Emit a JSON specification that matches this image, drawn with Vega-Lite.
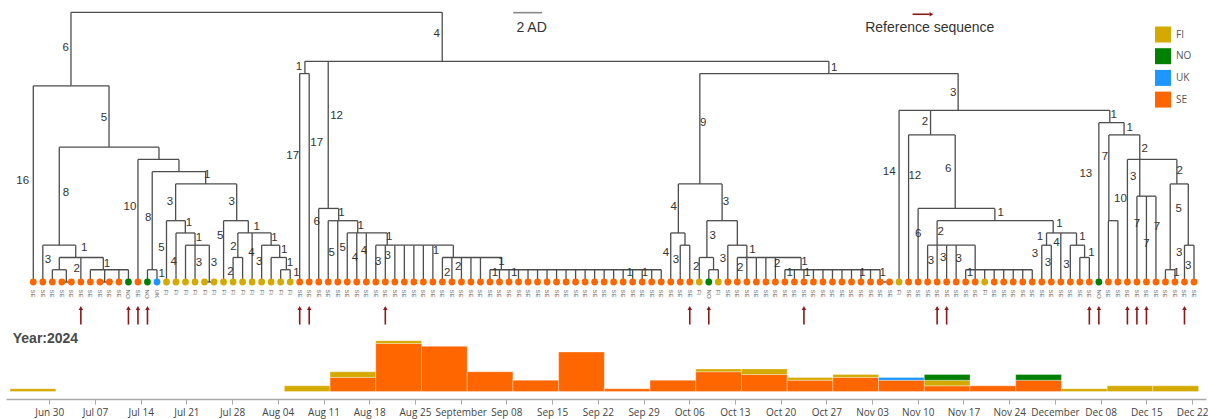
{
  "$schema": "https://vega.github.io/schema/vega-lite/v6.json",
  "width": 1208,
  "height": 419,
  "autosize": "none",
  "padding": 0,
  "background": "#ffffff",
  "config": {"view": {"stroke": null}, "text": {"font": "Liberation Sans"}},
  "datasets": {
    "tips": [
      {"i":0,"c":"SE","h":16,"r":0},{"i":1,"c":"SE","h":3,"r":0},{"i":2,"c":"SE","h":1,"r":0},{"i":3,"c":"SE","h":0,"r":0},{"i":4,"c":"SE","h":0,"r":0},
      {"i":5,"c":"SE","h":2,"r":1},{"i":6,"c":"SE","h":1,"r":0},{"i":7,"c":"SE","h":0,"r":0},{"i":8,"c":"SE","h":0,"r":0},{"i":9,"c":"SE","h":1,"r":0},
      {"i":10,"c":"NO","h":1,"r":1},{"i":11,"c":"SE","h":10,"r":1},{"i":12,"c":"NO","h":1,"r":1},{"i":13,"c":"UK","h":1,"r":0},{"i":14,"c":"FI","h":5,"r":0},
      {"i":15,"c":"FI","h":4,"r":0},{"i":16,"c":"FI","h":3,"r":0},{"i":17,"c":"FI","h":3,"r":0},{"i":18,"c":"FI","h":0,"r":0},{"i":19,"c":"FI","h":0,"r":0},
      {"i":20,"c":"FI","h":5,"r":0},{"i":21,"c":"FI","h":2,"r":0},{"i":22,"c":"FI","h":2,"r":0},{"i":23,"c":"FI","h":4,"r":0},{"i":24,"c":"FI","h":3,"r":0},
      {"i":25,"c":"FI","h":2,"r":0},{"i":26,"c":"FI","h":1,"r":0},{"i":27,"c":"FI","h":1,"r":0},{"i":28,"c":"SE","h":17,"r":1},{"i":29,"c":"SE","h":17,"r":1},
      {"i":30,"c":"SE","h":6,"r":0},{"i":31,"c":"SE","h":5,"r":0},{"i":32,"c":"SE","h":5,"r":0},{"i":33,"c":"SE","h":4,"r":0},{"i":34,"c":"SE","h":4,"r":0},
      {"i":35,"c":"SE","h":4,"r":0},{"i":36,"c":"SE","h":3,"r":0},{"i":37,"c":"SE","h":3,"r":1},{"i":38,"c":"SE","h":3,"r":0},{"i":39,"c":"SE","h":3,"r":0},
      {"i":40,"c":"SE","h":3,"r":0},{"i":41,"c":"SE","h":3,"r":0},{"i":42,"c":"SE","h":3,"r":0},{"i":43,"c":"SE","h":2,"r":0},{"i":44,"c":"SE","h":2,"r":0},
      {"i":45,"c":"SE","h":2,"r":0},{"i":46,"c":"SE","h":2,"r":0},{"i":47,"c":"SE","h":2,"r":0},{"i":48,"c":"SE","h":1,"r":0},{"i":49,"c":"SE","h":1,"r":0},
      {"i":50,"c":"SE","h":1,"r":0},{"i":51,"c":"SE","h":1,"r":0},{"i":52,"c":"SE","h":1,"r":0},{"i":53,"c":"SE","h":1,"r":0},{"i":54,"c":"SE","h":1,"r":0},
      {"i":55,"c":"SE","h":1,"r":0},{"i":56,"c":"SE","h":1,"r":0},{"i":57,"c":"SE","h":1,"r":0},{"i":58,"c":"SE","h":1,"r":0},{"i":59,"c":"SE","h":1,"r":0},
      {"i":60,"c":"SE","h":1,"r":0},{"i":61,"c":"SE","h":1,"r":0},{"i":62,"c":"SE","h":1,"r":0},{"i":63,"c":"SE","h":1,"r":0},{"i":64,"c":"SE","h":1,"r":0},
      {"i":65,"c":"SE","h":1,"r":0},{"i":66,"c":"SE","h":1,"r":0},{"i":67,"c":"SE","h":4,"r":0},{"i":68,"c":"SE","h":3,"r":0},{"i":69,"c":"SE","h":3,"r":1},
      {"i":70,"c":"FI","h":2,"r":0},{"i":71,"c":"NO","h":1,"r":1},{"i":72,"c":"FI","h":1,"r":0},{"i":73,"c":"SE","h":3,"r":0},{"i":74,"c":"SE","h":2,"r":0},
      {"i":75,"c":"SE","h":2,"r":0},{"i":76,"c":"SE","h":2,"r":0},{"i":77,"c":"SE","h":2,"r":0},{"i":78,"c":"SE","h":2,"r":0},{"i":79,"c":"SE","h":1,"r":0},
      {"i":80,"c":"SE","h":1,"r":0},{"i":81,"c":"SE","h":1,"r":1},{"i":82,"c":"SE","h":1,"r":0},{"i":83,"c":"SE","h":1,"r":0},{"i":84,"c":"SE","h":1,"r":0},
      {"i":85,"c":"SE","h":1,"r":0},{"i":86,"c":"SE","h":1,"r":0},{"i":87,"c":"SE","h":1,"r":0},{"i":88,"c":"SE","h":1,"r":0},{"i":89,"c":"SE","h":1,"r":0},
      {"i":90,"c":"SE","h":0,"r":0},{"i":91,"c":"FI","h":14,"r":0},{"i":92,"c":"SE","h":12,"r":0},{"i":93,"c":"SE","h":6,"r":0},{"i":94,"c":"SE","h":3,"r":0},
      {"i":95,"c":"SE","h":3,"r":1},{"i":96,"c":"SE","h":3,"r":1},{"i":97,"c":"SE","h":3,"r":0},{"i":98,"c":"SE","h":1,"r":0},{"i":99,"c":"SE","h":1,"r":0},
      {"i":100,"c":"FI","h":1,"r":0},{"i":101,"c":"SE","h":1,"r":0},{"i":102,"c":"SE","h":1,"r":0},{"i":103,"c":"SE","h":1,"r":0},{"i":104,"c":"SE","h":1,"r":0},
      {"i":105,"c":"SE","h":1,"r":0},{"i":106,"c":"SE","h":3,"r":0},{"i":107,"c":"SE","h":3,"r":0},{"i":108,"c":"SE","h":4,"r":0},{"i":109,"c":"SE","h":3,"r":0},
      {"i":110,"c":"SE","h":2,"r":0},{"i":111,"c":"SE","h":2,"r":1},{"i":112,"c":"NO","h":13,"r":1},{"i":113,"c":"SE","h":5,"r":0},{"i":114,"c":"SE","h":5,"r":0},
      {"i":115,"c":"SE","h":10,"r":1},{"i":116,"c":"SE","h":7,"r":1},{"i":117,"c":"SE","h":7,"r":1},{"i":118,"c":"SE","h":7,"r":0},{"i":119,"c":"SE","h":1,"r":0},
      {"i":120,"c":"SE","h":1,"r":0},{"i":121,"c":"SE","h":3,"r":1},{"i":122,"c":"SE","h":3,"r":0}
    ],
    "segs": [
      {"x1":3.96,"x2":42.98,"y1":22,"y2":22},{"x1":3.96,"x2":3.96,"y1":22,"y2":16},{"x1":0,"x2":7.96,"y1":16,"y2":16},{"x1":7.96,"x2":7.96,"y1":16,"y2":11},
      {"x1":2.73,"x2":13.21,"y1":11,"y2":11},{"x1":2.73,"x2":2.73,"y1":11,"y2":3},{"x1":1,"x2":4.46,"y1":3,"y2":3},{"x1":4.46,"x2":4.46,"y1":3,"y2":2},
      {"x1":2.73,"x2":7.36,"y1":2,"y2":2},{"x1":2.73,"x2":2.73,"y1":2,"y2":1},{"x1":2,"x2":3.47,"y1":1,"y2":1},{"x1":3.47,"x2":3.47,"y1":1,"y2":0},
      {"x1":3,"x2":4,"y1":0,"y2":0},{"x1":7.36,"x2":7.36,"y1":2,"y2":1},{"x1":6,"x2":10,"y1":1,"y2":1},{"x1":7.5,"x2":7.5,"y1":1,"y2":0},
      {"x1":7,"x2":8,"y1":0,"y2":0},{"x1":13.21,"x2":13.21,"y1":11,"y2":10},{"x1":11,"x2":15.31,"y1":10,"y2":10},{"x1":15.31,"x2":15.31,"y1":10,"y2":9},
      {"x1":12.5,"x2":18.12,"y1":9,"y2":9},{"x1":12.5,"x2":12.5,"y1":9,"y2":1},{"x1":12,"x2":13,"y1":1,"y2":1},{"x1":18.12,"x2":18.12,"y1":9,"y2":8},
      {"x1":14.96,"x2":21.38,"y1":8,"y2":8},{"x1":14.96,"x2":14.96,"y1":8,"y2":5},{"x1":14,"x2":15.98,"y1":5,"y2":5},{"x1":15.98,"x2":15.98,"y1":5,"y2":4},
      {"x1":15,"x2":17,"y1":4,"y2":4},{"x1":17,"x2":17,"y1":4,"y2":3},{"x1":16,"x2":18.5,"y1":3,"y2":3},{"x1":18.5,"x2":18.5,"y1":3,"y2":0},
      {"x1":18,"x2":19,"y1":0,"y2":0},{"x1":21.38,"x2":21.38,"y1":8,"y2":5},{"x1":20,"x2":22.6,"y1":5,"y2":5},{"x1":22.6,"x2":22.6,"y1":5,"y2":4},
      {"x1":21.5,"x2":25,"y1":4,"y2":4},{"x1":21.5,"x2":21.5,"y1":4,"y2":2},{"x1":21,"x2":22,"y1":2,"y2":2},{"x1":25,"x2":25,"y1":4,"y2":3},
      {"x1":24,"x2":25.9,"y1":3,"y2":3},{"x1":25.9,"x2":25.9,"y1":3,"y2":2},{"x1":25,"x2":26.6,"y1":2,"y2":2},{"x1":26.6,"x2":26.6,"y1":2,"y2":1},
      {"x1":26,"x2":27,"y1":1,"y2":1},
      {"x1":42.98,"x2":42.98,"y1":22,"y2":18},{"x1":28.55,"x2":83.62,"y1":18,"y2":18},{"x1":28.55,"x2":28.55,"y1":18,"y2":17},{"x1":28,"x2":29,"y1":17,"y2":17},
      {"x1":31.0,"x2":31.0,"y1":18,"y2":6},{"x1":30,"x2":32.1,"y1":6,"y2":6},{"x1":32.1,"x2":32.1,"y1":6,"y2":5},{"x1":31,"x2":34.1,"y1":5,"y2":5},
      {"x1":34.1,"x2":34.1,"y1":5,"y2":4},{"x1":33,"x2":37.2,"y1":4,"y2":4},{"x1":37.2,"x2":37.2,"y1":4,"y2":3},{"x1":36,"x2":44.15,"y1":3,"y2":3},
      {"x1":44.15,"x2":44.15,"y1":3,"y2":2},{"x1":43,"x2":49.2,"y1":2,"y2":2},{"x1":49.2,"x2":49.2,"y1":2,"y2":1},{"x1":48,"x2":66,"y1":1,"y2":1},
      {"x1":83.62,"x2":83.62,"y1":18,"y2":17},{"x1":70.06,"x2":97.21,"y1":17,"y2":17},{"x1":70.06,"x2":70.06,"y1":17,"y2":8},{"x1":67.8,"x2":72.4,"y1":8,"y2":8},
      {"x1":67.8,"x2":67.8,"y1":8,"y2":4},{"x1":67,"x2":68.5,"y1":4,"y2":4},{"x1":68.5,"x2":68.5,"y1":4,"y2":3},{"x1":68,"x2":69,"y1":3,"y2":3},
      {"x1":72.4,"x2":72.4,"y1":8,"y2":5},{"x1":70.8,"x2":74,"y1":5,"y2":5},{"x1":70.8,"x2":70.8,"y1":5,"y2":2},{"x1":70,"x2":71.5,"y1":2,"y2":2},
      {"x1":71.5,"x2":71.5,"y1":2,"y2":1},{"x1":71,"x2":72,"y1":1,"y2":1},{"x1":74,"x2":74,"y1":5,"y2":3},{"x1":73,"x2":75,"y1":3,"y2":3},
      {"x1":75,"x2":75,"y1":3,"y2":2},{"x1":74,"x2":80.7,"y1":2,"y2":2},{"x1":80.7,"x2":80.7,"y1":2,"y2":1},{"x1":79,"x2":89,"y1":1,"y2":1},
      {"x1":89,"x2":90,"y1":0,"y2":0},
      {"x1":97.21,"x2":97.21,"y1":17,"y2":14},{"x1":91,"x2":113.15,"y1":14,"y2":14},{"x1":94.31,"x2":94.31,"y1":14,"y2":12},{"x1":92,"x2":96.9,"y1":12,"y2":12},
      {"x1":96.9,"x2":96.9,"y1":12,"y2":6},{"x1":93,"x2":101.07,"y1":6,"y2":6},{"x1":101.07,"x2":101.07,"y1":6,"y2":5},{"x1":95,"x2":107.2,"y1":5,"y2":5},
      {"x1":95,"x2":95,"y1":5,"y2":3},{"x1":94,"x2":99,"y1":3,"y2":3},{"x1":99,"x2":99,"y1":3,"y2":1},{"x1":98,"x2":105,"y1":1,"y2":1},
      {"x1":107.2,"x2":107.2,"y1":5,"y2":4},{"x1":106.5,"x2":109.65,"y1":4,"y2":4},{"x1":106.5,"x2":106.5,"y1":4,"y2":3},{"x1":106,"x2":107,"y1":3,"y2":3},
      {"x1":109.65,"x2":109.65,"y1":4,"y2":3},{"x1":109,"x2":110.5,"y1":3,"y2":3},{"x1":110.5,"x2":110.5,"y1":3,"y2":2},{"x1":110,"x2":111,"y1":2,"y2":2},
      {"x1":113.15,"x2":113.15,"y1":14,"y2":13},{"x1":112,"x2":114.65,"y1":13,"y2":13},{"x1":114.65,"x2":114.65,"y1":13,"y2":12},{"x1":113.05,"x2":116.3,"y1":12,"y2":12},
      {"x1":113.05,"x2":113.05,"y1":12,"y2":5},{"x1":113,"x2":114,"y1":5,"y2":5},{"x1":116.3,"x2":116.3,"y1":12,"y2":7},{"x1":115,"x2":120.2,"y1":10,"y2":10},
      {"x1":116,"x2":118,"y1":7,"y2":7},{"x1":120.2,"x2":120.2,"y1":10,"y2":8},{"x1":119.5,"x2":121.4,"y1":8,"y2":8},{"x1":119.5,"x2":119.5,"y1":8,"y2":1},
      {"x1":119,"x2":120,"y1":1,"y2":1},{"x1":121.4,"x2":121.4,"y1":8,"y2":3},{"x1":121,"x2":122,"y1":3,"y2":3}
    ],
    "nums": [
      {"x":3.4,"y":19.1,"t":"6"},{"x":-1.11,"y":8.24,"t":"16"},{"x":7.43,"y":13.4,"t":"5"},{"x":3.44,"y":7.3,"t":"8"},{"x":1.55,"y":1.8,"t":"3"},
      {"x":5.34,"y":2.77,"t":"1"},{"x":4.57,"y":1.04,"t":"2"},{"x":7.73,"y":1.5,"t":"1"},{"x":10.16,"y":6.15,"t":"10"},{"x":12.09,"y":5.2,"t":"8"},
      {"x":13.5,"y":0.68,"t":"1"},{"x":18.29,"y":8.7,"t":"1"},{"x":14.37,"y":6.5,"t":"3"},{"x":20.85,"y":6.5,"t":"3"},{"x":13.47,"y":2.75,"t":"5"},
      {"x":16.36,"y":4.85,"t":"1"},{"x":14.76,"y":1.66,"t":"4"},{"x":17.4,"y":3.56,"t":"1"},{"x":17.4,"y":1.58,"t":"3"},{"x":19.0,"y":1.52,"t":"3"},
      {"x":19.64,"y":3.75,"t":"5"},{"x":23.47,"y":4.46,"t":"1"},{"x":21.05,"y":2.88,"t":"2"},{"x":20.73,"y":0.84,"t":"2"},{"x":22.94,"y":2.34,"t":"4"},
      {"x":25.36,"y":3.56,"t":"1"},{"x":23.75,"y":1.66,"t":"3"},{"x":26.37,"y":2.6,"t":"1"},{"x":26.98,"y":1.52,"t":"1"},{"x":27.66,"y":0.71,"t":"1"},
      {"x":42.39,"y":20.2,"t":"4"},{"x":27.92,"y":17.56,"t":"1"},{"x":27.26,"y":10.3,"t":"17"},{"x":29.78,"y":11.3,"t":"17"},{"x":31.88,"y":13.56,"t":"12"},
      {"x":29.8,"y":4.92,"t":"6"},{"x":32.4,"y":5.65,"t":"1"},{"x":31.36,"y":2.39,"t":"5"},{"x":32.51,"y":2.75,"t":"5"},{"x":34.4,"y":4.57,"t":"1"},
      {"x":33.81,"y":1.93,"t":"4"},{"x":34.76,"y":2.55,"t":"4"},{"x":37.41,"y":3.7,"t":"1"},{"x":36.26,"y":1.66,"t":"3"},{"x":37.24,"y":2.1,"t":"3"},
      {"x":42.32,"y":2.55,"t":"1"},{"x":43.51,"y":0.76,"t":"2"},{"x":44.66,"y":1.2,"t":"2"},{"x":49.22,"y":1.66,"t":"1"},{"x":48.52,"y":0.76,"t":"1"},
      {"x":50.55,"y":0.76,"t":"1"},{"x":62.7,"y":0.76,"t":"1"},{"x":64.28,"y":0.76,"t":"1"},{"x":84.18,"y":17.43,"t":"1"},{"x":70.41,"y":12.94,"t":"9"},
      {"x":96.68,"y":15.44,"t":"3"},{"x":67.3,"y":6.09,"t":"4"},{"x":66.49,"y":2.39,"t":"4"},{"x":67.54,"y":1.79,"t":"3"},{"x":72.8,"y":6.55,"t":"3"},
      {"x":71.4,"y":3.78,"t":"3"},{"x":69.67,"y":1.2,"t":"2"},{"x":72.5,"y":1.88,"t":"3"},{"x":75.6,"y":2.6,"t":"1"},{"x":74.3,"y":1.17,"t":"2"},
      {"x":78.2,"y":1.45,"t":"2"},{"x":81.06,"y":1.66,"t":"1"},{"x":79.5,"y":0.76,"t":"1"},{"x":81.34,"y":0.76,"t":"1"},{"x":87.15,"y":0.76,"t":"1"},
      {"x":89.27,"y":0.76,"t":"1"},{"x":89.96,"y":8.95,"t":"14"},{"x":93.71,"y":13.05,"t":"2"},{"x":92.66,"y":8.67,"t":"12"},{"x":96.16,"y":9.19,"t":"6"},
      {"x":93.0,"y":3.89,"t":"6"},{"x":101.67,"y":5.6,"t":"1"},{"x":95.37,"y":4.1,"t":"2"},{"x":94.34,"y":1.74,"t":"3"},{"x":95.63,"y":1.93,"t":"3"},
      {"x":97.28,"y":1.85,"t":"3"},{"x":98.44,"y":0.71,"t":"1"},{"x":107.85,"y":4.73,"t":"1"},{"x":105.8,"y":3.65,"t":"1"},{"x":105.27,"y":2.28,"t":"3"},
      {"x":106.64,"y":1.53,"t":"3"},{"x":107.55,"y":3.16,"t":"4"},{"x":110.28,"y":3.65,"t":"1"},{"x":108.6,"y":1.39,"t":"3"},{"x":111.23,"y":2.39,"t":"1"},
      {"x":113.57,"y":13.6,"t":"1"},{"x":110.63,"y":8.8,"t":"13"},{"x":115.25,"y":12.54,"t":"1"},{"x":112.63,"y":10.17,"t":"7"},{"x":116.83,"y":10.85,"t":"2"},
      {"x":114.27,"y":6.8,"t":"10"},{"x":115.6,"y":8.59,"t":"3"},{"x":116.0,"y":4.73,"t":"7"},{"x":117.0,"y":3.07,"t":"7"},{"x":118.1,"y":4.46,"t":"7"},
      {"x":120.5,"y":9.08,"t":"2"},{"x":120.16,"y":0.76,"t":"1"},{"x":120.4,"y":5.95,"t":"5"},{"x":120.45,"y":2.34,"t":"3"},{"x":121.4,"y":1.3,"t":"3"}
    ],
    "hist": [
      {"start":"2024-06-24","end":"2024-07-01","country":"FI","n":1},
      {"start":"2024-08-05","end":"2024-08-12","country":"FI","n":2},
      {"start":"2024-08-12","end":"2024-08-19","country":"SE","n":5},
      {"start":"2024-08-12","end":"2024-08-19","country":"FI","n":2},
      {"start":"2024-08-19","end":"2024-08-26","country":"SE","n":17},
      {"start":"2024-08-19","end":"2024-08-26","country":"FI","n":1},
      {"start":"2024-08-26","end":"2024-09-02","country":"SE","n":16},
      {"start":"2024-09-02","end":"2024-09-09","country":"SE","n":7},
      {"start":"2024-09-09","end":"2024-09-16","country":"SE","n":4},
      {"start":"2024-09-16","end":"2024-09-23","country":"SE","n":14},
      {"start":"2024-09-23","end":"2024-09-30","country":"SE","n":1},
      {"start":"2024-09-30","end":"2024-10-07","country":"SE","n":4},
      {"start":"2024-10-07","end":"2024-10-14","country":"SE","n":7},
      {"start":"2024-10-07","end":"2024-10-14","country":"FI","n":1},
      {"start":"2024-10-14","end":"2024-10-21","country":"SE","n":6},
      {"start":"2024-10-14","end":"2024-10-21","country":"FI","n":2},
      {"start":"2024-10-21","end":"2024-10-28","country":"SE","n":4},
      {"start":"2024-10-21","end":"2024-10-28","country":"FI","n":1},
      {"start":"2024-10-28","end":"2024-11-04","country":"SE","n":5},
      {"start":"2024-10-28","end":"2024-11-04","country":"FI","n":1},
      {"start":"2024-11-04","end":"2024-11-11","country":"SE","n":4},
      {"start":"2024-11-04","end":"2024-11-11","country":"UK","n":1},
      {"start":"2024-11-11","end":"2024-11-18","country":"SE","n":2},
      {"start":"2024-11-11","end":"2024-11-18","country":"FI","n":2},
      {"start":"2024-11-11","end":"2024-11-18","country":"NO","n":2},
      {"start":"2024-11-18","end":"2024-11-25","country":"SE","n":2},
      {"start":"2024-11-25","end":"2024-12-02","country":"SE","n":4},
      {"start":"2024-11-25","end":"2024-12-02","country":"NO","n":2},
      {"start":"2024-12-02","end":"2024-12-09","country":"FI","n":1},
      {"start":"2024-12-09","end":"2024-12-16","country":"FI","n":2},
      {"start":"2024-12-16","end":"2024-12-23","country":"FI","n":2}
    ]
  },
  "layer": [
    {
      "layer": [
        {
          "data": {"name": "segs"},
          "mark": {"type": "rule", "stroke": "#4d4d4d", "strokeWidth": 1.3},
          "encoding": {
            "x": {"field": "x1", "type": "quantitative", "scale": {"domain": [0, 122], "range": [33.3, 1194], "nice": false, "zero": false}, "axis": null},
            "x2": {"field": "x2"},
            "y": {"field": "y1", "type": "quantitative", "scale": {"domain": [0, 22], "range": [282, 12.3], "nice": false, "zero": false}, "axis": null},
            "y2": {"field": "y2"}
          }
        },
        {
          "data": {"name": "tips"},
          "mark": {"type": "rule", "stroke": "#4d4d4d", "strokeWidth": 1.3},
          "encoding": {
            "x": {"field": "i", "type": "quantitative", "scale": {"domain": [0, 122], "range": [33.3, 1194], "nice": false, "zero": false}, "axis": null},
            "y": {"field": "h", "type": "quantitative", "scale": {"domain": [0, 22], "range": [282, 12.3], "nice": false, "zero": false}, "axis": null},
            "y2": {"datum": 0}
          }
        },
        {
          "data": {"name": "tips"},
          "mark": {"type": "circle", "size": 46, "opacity": 1},
          "encoding": {
            "x": {"field": "i", "type": "quantitative", "scale": {"domain": [0, 122], "range": [33.3, 1194], "nice": false, "zero": false}, "axis": null},
            "y": {"datum": 0, "type": "quantitative", "scale": {"domain": [0, 22], "range": [282, 12.3], "nice": false, "zero": false}, "axis": null},
            "color": {"field": "c", "type": "nominal", "scale": {"domain": ["FI", "NO", "UK", "SE"], "range": ["#D4AA00", "#008000", "#1E96FF", "#FF6600"]},
              "legend": {"title": null, "orient": "none", "legendX": 1155, "legendY": 26.5, "symbolType": "square", "symbolSize": 256, "symbolStrokeWidth": 0, "symbolOpacity": 1, "labelFont": "Open Sans", "labelFontSize": 10, "labelColor": "#555555", "rowPadding": 5.7, "labelOffset": 5, "padding": 0}}
          }
        },
        {
          "data": {"name": "tips"},
          "mark": {"type": "text", "angle": 90, "align": "left", "baseline": "middle", "fontSize": 6, "fill": "#666666"},
          "encoding": {
            "x": {"field": "i", "type": "quantitative", "scale": {"domain": [0, 122], "range": [33.3, 1194], "nice": false, "zero": false}, "axis": null},
            "y": {"datum": -0.62, "type": "quantitative", "scale": {"domain": [0, 22], "range": [282, 12.3], "nice": false, "zero": false}, "axis": null},
            "text": {"field": "c"}
          }
        },
        {
          "data": {"name": "tips"},
          "transform": [{"filter": "datum.r == 1"}],
          "mark": {"type": "rule", "stroke": "#8B1A1A", "strokeWidth": 1.6},
          "encoding": {
            "x": {"field": "i", "type": "quantitative", "scale": {"domain": [0, 122], "range": [33.3, 1194], "nice": false, "zero": false}, "axis": null},
            "y": {"datum": -2.25, "type": "quantitative", "scale": {"domain": [0, 22], "range": [282, 12.3], "nice": false, "zero": false}, "axis": null},
            "y2": {"datum": -3.47}
          }
        },
        {
          "data": {"name": "tips"},
          "transform": [{"filter": "datum.r == 1"}],
          "mark": {"type": "point", "shape": "triangle-up", "filled": true, "size": 20, "color": "#8B1A1A", "opacity": 1},
          "encoding": {
            "x": {"field": "i", "type": "quantitative", "scale": {"domain": [0, 122], "range": [33.3, 1194], "nice": false, "zero": false}, "axis": null},
            "y": {"datum": -2.12, "type": "quantitative", "scale": {"domain": [0, 22], "range": [282, 12.3], "nice": false, "zero": false}, "axis": null}
          }
        },
        {
          "data": {"name": "nums"},
          "mark": {"type": "text", "align": "center", "baseline": "middle", "fontSize": 11.5, "fill": "#333333"},
          "encoding": {
            "x": {"field": "x", "type": "quantitative", "scale": {"domain": [0, 122], "range": [33.3, 1194], "nice": false, "zero": false}, "axis": null},
            "y": {"field": "y", "type": "quantitative", "scale": {"domain": [0, 22], "range": [282, 12.3], "nice": false, "zero": false}, "axis": null},
            "text": {"field": "t"}
          }
        },
        {
          "data": {"values": [{}]},
          "mark": {"type": "rule", "stroke": "#888888", "strokeWidth": 1.6},
          "encoding": {
            "x": {"datum": 50.44, "type": "quantitative", "scale": {"domain": [0, 122], "range": [33.3, 1194], "nice": false, "zero": false}, "axis": null},
            "x2": {"datum": 53.49},
            "y": {"datum": 21.97, "type": "quantitative", "scale": {"domain": [0, 22], "range": [282, 12.3], "nice": false, "zero": false}, "axis": null}
          }
        },
        {
          "data": {"values": [{}]},
          "mark": {"type": "text", "align": "center", "baseline": "middle", "fontSize": 14, "fill": "#333333", "text": "2 AD"},
          "encoding": {
            "x": {"datum": 52.38, "type": "quantitative", "scale": {"domain": [0, 122], "range": [33.3, 1194], "nice": false, "zero": false}, "axis": null},
            "y": {"datum": 20.74, "type": "quantitative", "scale": {"domain": [0, 22], "range": [282, 12.3], "nice": false, "zero": false}, "axis": null}
          }
        },
        {
          "data": {"values": [{}]},
          "mark": {"type": "rule", "stroke": "#8B1A1A", "strokeWidth": 1.6},
          "encoding": {
            "x": {"datum": 92.42, "type": "quantitative", "scale": {"domain": [0, 122], "range": [33.3, 1194], "nice": false, "zero": false}, "axis": null},
            "x2": {"datum": 94.2},
            "y": {"datum": 21.84, "type": "quantitative", "scale": {"domain": [0, 22], "range": [282, 12.3], "nice": false, "zero": false}, "axis": null}
          }
        },
        {
          "data": {"values": [{}]},
          "mark": {"type": "point", "shape": "triangle-right", "filled": true, "size": 20, "color": "#8B1A1A", "opacity": 1},
          "encoding": {
            "x": {"datum": 94.4, "type": "quantitative", "scale": {"domain": [0, 122], "range": [33.3, 1194], "nice": false, "zero": false}, "axis": null},
            "y": {"datum": 21.84, "type": "quantitative", "scale": {"domain": [0, 22], "range": [282, 12.3], "nice": false, "zero": false}, "axis": null}
          }
        },
        {
          "data": {"values": [{}]},
          "mark": {"type": "text", "align": "center", "baseline": "middle", "fontSize": 14, "fill": "#333333", "text": "Reference sequence"},
          "encoding": {
            "x": {"datum": 94.23, "type": "quantitative", "scale": {"domain": [0, 122], "range": [33.3, 1194], "nice": false, "zero": false}, "axis": null},
            "y": {"datum": 20.72, "type": "quantitative", "scale": {"domain": [0, 22], "range": [282, 12.3], "nice": false, "zero": false}, "axis": null}
          }
        },
        {
          "data": {"values": [{}]},
          "mark": {"type": "text", "align": "left", "baseline": "middle", "fontSize": 14, "fontWeight": "bold", "fill": "#4a4a4a", "text": "Year:2024"},
          "encoding": {
            "x": {"datum": -2.16, "type": "quantitative", "scale": {"domain": [0, 122], "range": [33.3, 1194], "nice": false, "zero": false}, "axis": null},
            "y": {"datum": -4.69, "type": "quantitative", "scale": {"domain": [0, 22], "range": [282, 12.3], "nice": false, "zero": false}, "axis": null}
          }
        }
      ]
    },
    {
      "data": {"name": "hist"},
      "transform": [
        {"lookup": "country", "from": {"data": {"values": [{"country": "SE", "rank": 1}, {"country": "FI", "rank": 2}, {"country": "UK", "rank": 3}, {"country": "NO", "rank": 4}]}, "key": "country", "fields": ["rank"]}},
        {"stack": "n", "groupby": ["start"], "sort": [{"field": "rank", "order": "ascending"}], "as": ["n0", "n1"], "offset": "zero"}
      ],
      "mark": {"type": "bar", "stroke": "#ffffff", "strokeWidth": 0.6, "strokeOpacity": 0.55, "opacity": 1},
      "encoding": {
        "x": {
          "field": "start", "type": "temporal",
          "scale": {"type": "utc", "domain": [{"year": 2024, "month": "jun", "date": 23, "hours": 9, "utc": true}, {"year": 2024, "month": "dec", "date": 24, "hours": 3, "minutes": 20, "utc": true}], "range": [6, 1206], "nice": false},
          "axis": {"orient": "bottom", "offset": -20, "title": null, "grid": false, "tickCount": {"interval": "week", "step": 1}, "domainColor": "#aaaaaa", "domainWidth": 1.5, "tickColor": "#aaaaaa", "tickSize": 5, "tickWidth": 1, "labelFont": "Open Sans", "labelFontSize": 10, "labelColor": "#444444", "labelPadding": 3, "labelFlush": false, "labelOverlap": false, "labelBound": false}
        },
        "x2": {"field": "end"},
        "y": {"field": "n1", "type": "quantitative", "scale": {"domain": [0, 18], "range": [391.5, 340.7], "nice": false, "zero": false}, "axis": null},
        "y2": {"field": "n0"},
        "color": {"field": "country", "type": "nominal", "scale": {"domain": ["FI", "NO", "UK", "SE"], "range": ["#D4AA00", "#008000", "#1E96FF", "#FF6600"]},
          "legend": {"title": null, "orient": "none", "legendX": 1155, "legendY": 26.5, "symbolType": "square", "symbolSize": 256, "symbolStrokeWidth": 0, "symbolOpacity": 1, "labelFont": "Open Sans", "labelFontSize": 10, "labelColor": "#555555", "rowPadding": 5.7, "labelOffset": 5, "padding": 0}}
      }
    }
  ],
  "resolve": {"scale": {"x": "independent", "y": "independent"}}
}
